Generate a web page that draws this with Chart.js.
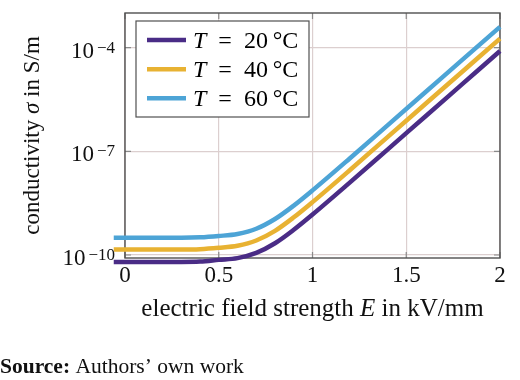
<!DOCTYPE html>
<html>
<head>
<meta charset="utf-8">
<script src="https://cdn.jsdelivr.net/npm/chart.js@4.4.1/dist/chart.umd.min.js"></script>
<style>
  body { margin: 0; background: #fff; }
  #wrap { width: 520px; height: 380px; }
</style>
</head>
<body>
<div id="wrap"><canvas id="myChart" width="520" height="380"></canvas></div>
<script>
// field strength E in kV/mm
const fieldE = [-0.06, 0, 0.1, 0.2, 0.3, 0.4, 0.5, 0.6, 0.7, 0.8, 0.9, 1.0, 1.2, 1.4, 1.6, 1.8, 2.0, 2.15];
// conductivity in S/m
const sigma20 = [6.31e-11, 6.31e-11, 6.31e-11, 6.31e-11, 6.31e-11, 6.46e-11, 7.24e-11, 8.13e-11, 1.15e-10, 2.19e-10, 5.37e-10, 1.48e-9, 1.26e-8, 1.12e-7, 1.0e-6, 8.91e-6, 7.94e-5, 4.07e-4];
const sigma40 = [1.45e-10, 1.45e-10, 1.45e-10, 1.45e-10, 1.45e-10, 1.48e-10, 1.62e-10, 1.86e-10, 2.63e-10, 5.01e-10, 1.23e-9, 3.39e-9, 2.88e-8, 2.57e-7, 2.29e-6, 2.04e-5, 1.82e-4, 9.33e-4];
const sigma60 = [3.16e-10, 3.16e-10, 3.16e-10, 3.16e-10, 3.16e-10, 3.24e-10, 3.55e-10, 4.07e-10, 5.75e-10, 1.10e-9, 2.69e-9, 7.41e-9, 6.31e-8, 5.62e-7, 5.01e-6, 4.47e-5, 3.98e-4, 2.04e-3];
const temps = ["20", "40", "60"];
const colors = ["#4a2c86", "#e8b232", "#4da4d6"];
const xTicks = [0, 0.5, 1, 1.5, 2];
const yTickExps = [-10, -7, -4];

const serif = '"Liberation Serif", "Times New Roman", serif';

const toPoints = (ys) => fieldE.map((e, i) => ({ x: e, y: ys[i] }));

// draw a row of text pieces, some italic / bold
const drawPieces = (c, pieces, x, y, align) => {
  let total = 0;
  pieces.forEach((p) => {
    c.font = p.font;
    total += c.measureText(p.t).width;
  });
  let cx = align === "center" ? x - total / 2 : x;
  pieces.forEach((p) => {
    c.font = p.font;
    c.fillText(p.t, cx, y);
    cx += c.measureText(p.t).width;
  });
};

const deco = {
  id: "deco",
  beforeDatasetsDraw(chart) {
    const c = chart.ctx;
    const a = chart.chartArea;
    const xs = chart.scales.x;
    const ys = chart.scales.y;
    c.save();
    // tick marks inside the frame
    c.strokeStyle = "#8a8a8a";
    c.lineWidth = 1.2;
    c.beginPath();
    xTicks.forEach((v) => {
      const px = xs.getPixelForValue(v);
      c.moveTo(px, a.bottom);
      c.lineTo(px, a.bottom - 6);
      c.moveTo(px, a.top);
      c.lineTo(px, a.top + 6);
    });
    yTickExps.forEach((e) => {
      const py = ys.getPixelForValue(Math.pow(10, e));
      c.moveTo(a.left, py);
      c.lineTo(a.left + 6, py);
      c.moveTo(a.right, py);
      c.lineTo(a.right - 6, py);
    });
    c.stroke();
    c.strokeStyle = "#505050";
    c.lineWidth = 1.4;
    c.strokeRect(a.left, a.top, a.right - a.left, a.bottom - a.top);
    c.restore();
  },
  afterDatasetsDraw(chart) {
    const c = chart.ctx;
    c.save();
    // legend box
    c.fillStyle = "#fff";
    c.fillRect(136, 21, 173, 96);
    c.strokeStyle = "#505050";
    c.lineWidth = 1.2;
    c.strokeRect(136, 21, 173, 96);
    const rows = [40, 69.3, 98.3];
    c.fillStyle = "#000";
    c.textBaseline = "alphabetic";
    temps.forEach((t, i) => {
      c.strokeStyle = colors[i];
      c.lineWidth = 4.5;
      c.beginPath();
      c.moveTo(147, rows[i]);
      c.lineTo(186, rows[i]);
      c.stroke();
      drawPieces(c, [
        { t: "T", font: "italic 24px " + serif },
        { t: "\u2002=\u2002" + t + "\u2009°C", font: "24px " + serif },
      ], 193, rows[i] + 8, "left");
    });
    c.restore();
  },
  afterDraw(chart) {
    const c = chart.ctx;
    const a = chart.chartArea;
    const xs = chart.scales.x;
    const ys = chart.scales.y;
    c.save();
    c.fillStyle = "#111";
    c.textBaseline = "alphabetic";
    // y tick labels 10^e
    yTickExps.forEach((e) => {
      const py = ys.getPixelForValue(Math.pow(10, e));
      c.font = "17px " + serif;
      c.textAlign = "right";
      const ex = "\u2212" + Math.abs(e);
      c.fillText(ex, a.left - 10, py + 5);
      const w = c.measureText(ex).width;
      c.font = "23px " + serif;
      c.fillText("10", a.left - 13 - w, py + 10);
    });
    // x tick labels
    c.font = "23px " + serif;
    c.textAlign = "center";
    xTicks.forEach((v) => {
      c.fillText(String(v), xs.getPixelForValue(v), 282);
    });
    c.textAlign = "left";
    // x title
    drawPieces(c, [
      { t: "electric field strength ", font: "25px " + serif },
      { t: "E", font: "italic 25px " + serif },
      { t: " in kV/mm", font: "25px " + serif },
    ], (a.left + a.right) / 2, 316, "center");
    // y title
    c.translate(39, (a.top + a.bottom) / 2);
    c.rotate(-Math.PI / 2);
    drawPieces(c, [
      { t: "conductivity ", font: "23px " + serif },
      { t: "σ", font: "italic 23px " + serif },
      { t: " in S/m", font: "23px " + serif },
    ], 0, 0, "center");
    c.setTransform(1, 0, 0, 1, 0, 0);
    // source note
    drawPieces(c, [
      { t: "Source:", font: "bold 21.5px " + serif },
      { t: " Authors’ own work", font: "21.5px " + serif },
    ], 0, 373, "left");
    c.restore();
  },
};

const ctx = document.getElementById("myChart");
new Chart(ctx, {
  type: "line",
  data: {
    datasets: [sigma20, sigma40, sigma60].map((s, i) => ({
      label: "T = " + temps[i] + " °C",
      data: toPoints(s),
      borderColor: colors[i],
      borderWidth: 4.5,
      pointRadius: 0,
      fill: false,
      cubicInterpolationMode: "monotone",
      clip: false,
    })),
  },
  options: {
    responsive: false,
    animation: false,
    devicePixelRatio: 1,
    layout: { padding: { left: 125, right: 20, top: 13, bottom: 122 } },
    plugins: { legend: { display: false }, tooltip: { enabled: false } },
    scales: {
      x: {
        type: "linear",
        min: 0,
        max: 2,
        ticks: { display: false, stepSize: 0.5 },
        grid: { color: "#dccfcf", lineWidth: 1.2, drawTicks: false },
        border: { display: false },
      },
      y: {
        type: "logarithmic",
        min: 8.2e-11,
        max: 1e-3,
        ticks: { display: false },
        afterBuildTicks: (scale) => {
          scale.ticks = yTickExps.map((e) => ({ value: Math.pow(10, e) }));
        },
        grid: { color: "#dccfcf", lineWidth: 1.2, drawTicks: false },
        border: { display: false },
      },
    },
  },
  plugins: [deco],
});
</script>
</body>
</html>
